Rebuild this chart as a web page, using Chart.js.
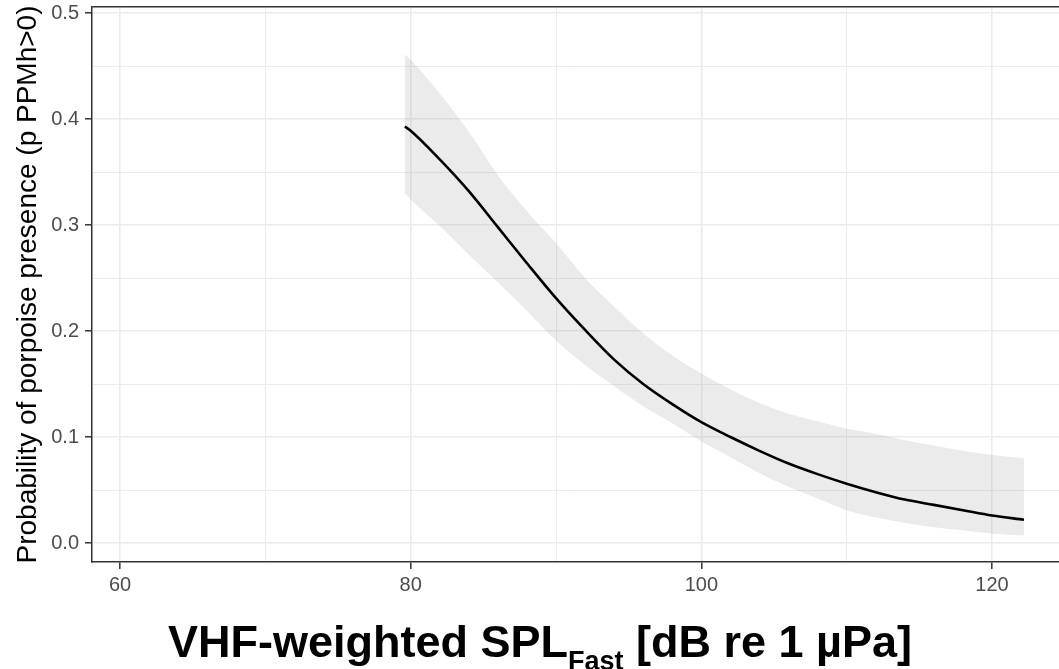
<!DOCTYPE html>
<html>
<head>
<meta charset="utf-8">
<script src="https://cdn.jsdelivr.net/npm/chart.js@4"></script>
<style>
    html, body { margin: 0; padding: 0; background: #fff; }
    #wrap { position: relative; width: 1059px; height: 669px; overflow: hidden; }
    #xTitle {
        position: absolute; left: 168px; top: 619px; white-space: nowrap;
        font: bold 45px "Liberation Sans", Arial, sans-serif; line-height: 45px; color: #000;
    }
    #xTitle sub { font-size: 27px; vertical-align: -13px; line-height: 0; }
</style>
</head>
<body>
<div id="wrap">
    <canvas id="chart" width="1059" height="669"></canvas>
    <div id="xTitle">VHF-weighted SPL<sub>Fast</sub> [dB re 1 µPa]</div>
</div>
<script>
    // values
    var splValues = [79.6, 80, 82, 84, 86, 88, 90, 92, 94, 96, 98, 100, 102, 104, 106, 108, 110, 112, 114, 116, 118, 120, 122.2];
    var probFit = [0.393, 0.389, 0.362, 0.332, 0.298, 0.264, 0.231, 0.201, 0.173, 0.150, 0.131, 0.114, 0.100, 0.087, 0.075, 0.065, 0.056, 0.048, 0.041, 0.036, 0.031, 0.026, 0.022];
    var probUpper = [0.461, 0.456, 0.424, 0.388, 0.347, 0.313, 0.283, 0.250, 0.223, 0.198, 0.177, 0.160, 0.145, 0.132, 0.122, 0.115, 0.108, 0.103, 0.097, 0.092, 0.087, 0.083, 0.080];
    var probLower = [0.330, 0.324, 0.299, 0.272, 0.246, 0.219, 0.191, 0.168, 0.148, 0.129, 0.113, 0.096, 0.081, 0.066, 0.053, 0.042, 0.031, 0.024, 0.019, 0.015, 0.012, 0.009, 0.007];

    var xTicks = [60, 70, 80, 90, 100, 110, 120];
    var xLabelled = [60, 80, 100, 120];
    var yTicks = [0, 0.05, 0.1, 0.15, 0.2, 0.25, 0.3, 0.35, 0.4, 0.45, 0.5];
    var yLabelled = [0, 0.1, 0.2, 0.3, 0.4, 0.5];

    function points(ys) {
        return splValues.map(function (x, i) {
            return { x: x, y: ys[i] };
        });
    }

    function isMajor(list, v) {
        return list.some(function (m) { return Math.abs(m - v) < 1e-9; });
    }

    function noPadding(scale) {
        scale.paddingTop = 0;
        scale.paddingBottom = 0;
        scale.paddingLeft = 0;
        scale.paddingRight = 0;
    }

    var tickFont = { family: '"Liberation Sans", Arial, sans-serif', size: 20 };

    new Chart(document.getElementById('chart'), {
        type: 'line',
        data: {
            datasets: [
                {
                    label: 'fit',
                    data: points(probFit),
                    borderColor: '#000',
                    borderWidth: 2.6,
                    pointRadius: 0,
                    fill: false,
                    cubicInterpolationMode: 'monotone',
                },
                {
                    label: 'upper',
                    data: points(probUpper),
                    borderWidth: 0,
                    borderColor: 'rgba(0,0,0,0)',
                    backgroundColor: 'rgba(153,153,153,0.2)',
                    pointRadius: 0,
                    fill: '+1',
                    cubicInterpolationMode: 'monotone',
                },
                {
                    label: 'lower',
                    data: points(probLower),
                    borderWidth: 0,
                    borderColor: 'rgba(0,0,0,0)',
                    pointRadius: 0,
                    fill: false,
                    cubicInterpolationMode: 'monotone',
                },
            ],
        },
        options: {
            responsive: false,
            animation: false,
            layout: { padding: 0 },
            plugins: {
                legend: { display: false },
                tooltip: { enabled: false },
            },
            scales: {
                x: {
                    type: 'linear',
                    min: 58.073,
                    max: 124.61,
                    afterBuildTicks: function (scale) {
                        scale.ticks = xTicks.map(function (v) { return { value: v }; });
                    },
                    afterFit: function (scale) {
                        scale.height = 107;
                        noPadding(scale);
                    },
                    ticks: {
                        color: '#4d4d4d',
                        font: tickFont,
                        padding: 4,
                        maxRotation: 0,
                        autoSkip: false,
                        callback: function (v) { return isMajor(xLabelled, v) ? String(v) : ''; },
                    },
                    grid: {
                        color: '#ebebeb',
                        lineWidth: function (c) { return c.tick && isMajor(xLabelled, c.tick.value) ? 1.6 : 1; },
                        tickLength: 7,
                        tickWidth: 1.5,
                        tickColor: function (c) { return c.tick && isMajor(xLabelled, c.tick.value) ? '#333' : 'rgba(0,0,0,0)'; },
                    },
                    border: { color: '#333', width: 1.5 },
                },
                xTop: {
                    type: 'linear',
                    position: 'top',
                    min: 58.073,
                    max: 124.61,
                    afterFit: function (scale) {
                        scale.height = 7;
                        noPadding(scale);
                    },
                    ticks: { display: false },
                    grid: { display: false, drawTicks: false },
                    border: { display: true, color: '#333', width: 1.5 },
                },
                y: {
                    type: 'linear',
                    min: -0.0179,
                    max: 0.5057,
                    afterBuildTicks: function (scale) {
                        scale.ticks = yTicks.map(function (v) { return { value: v }; });
                    },
                    afterFit: function (scale) {
                        scale.width = 92;
                        noPadding(scale);
                    },
                    ticks: {
                        color: '#4d4d4d',
                        font: tickFont,
                        padding: 6,
                        autoSkip: false,
                        callback: function (v) { return isMajor(yLabelled, v) ? v.toFixed(1) : ''; },
                    },
                    grid: {
                        color: '#ebebeb',
                        lineWidth: function (c) { return c.tick && isMajor(yLabelled, c.tick.value) ? 1.6 : 1; },
                        tickLength: 7,
                        tickWidth: 1.5,
                        tickColor: function (c) { return c.tick && isMajor(yLabelled, c.tick.value) ? '#333' : 'rgba(0,0,0,0)'; },
                    },
                    border: { color: '#333', width: 1.5 },
                    title: {
                        display: true,
                        text: 'Probability of porpoise presence (p PPMh>0)',
                        color: '#000',
                        font: { family: '"Liberation Sans", Arial, sans-serif', size: 28 },
                        padding: { top: 11, bottom: 0 },
                    },
                },
            },
        },
    });
</script>
</body>
</html>
